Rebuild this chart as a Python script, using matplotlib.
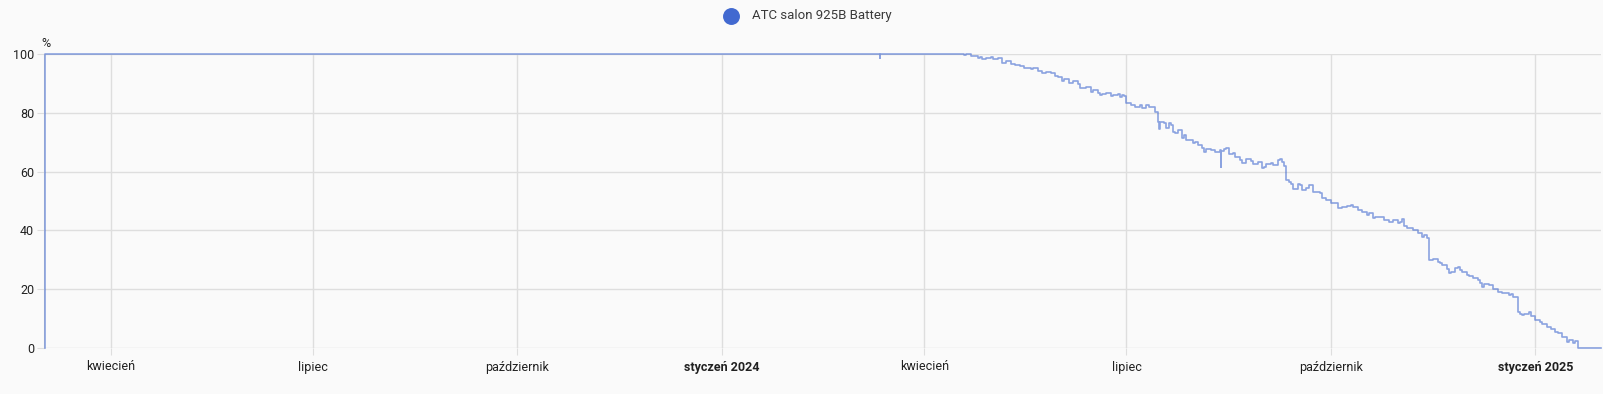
import matplotlib
matplotlib.use("Agg")
import matplotlib.pyplot as plt
import matplotlib.patches as mpatches
import pandas as pd

plt.rcParams['font.family'] = ['Roboto', 'DejaVu Sans']

# battery readings
dates = [
    "2023-03-02 12:00", "2023-03-02 13:00", "2024-03-12 00:00", "2024-03-12 06:00",
    "2024-04-17", "2024-04-19", "2024-04-20", "2024-04-22", "2024-04-25", "2024-04-26",
    "2024-04-27", "2024-04-29", "2024-05-01", "2024-05-02", "2024-05-04", "2024-05-06",
    "2024-05-08", "2024-05-10", "2024-05-12", "2024-05-14", "2024-05-16", "2024-05-19",
    "2024-05-20", "2024-05-22", "2024-05-24", "2024-05-26", "2024-05-28", "2024-05-30",
    "2024-05-31", "2024-06-02", "2024-06-03", "2024-06-05", "2024-06-07", "2024-06-09",
    "2024-06-10", "2024-06-11", "2024-06-13", "2024-06-15", "2024-06-16", "2024-06-18",
    "2024-06-19", "2024-06-20", "2024-06-22", "2024-06-24", "2024-06-25", "2024-06-27",
    "2024-06-28", "2024-06-29", "2024-06-30", "2024-07-01", "2024-07-03", "2024-07-05",
    "2024-07-07", "2024-07-08", "2024-07-10", "2024-07-11", "2024-07-12", "2024-07-14",
    "2024-07-15", "2024-07-15 12:00", "2024-07-16", "2024-07-18", "2024-07-19", "2024-07-20",
    "2024-07-21", "2024-07-22", "2024-07-23", "2024-07-24", "2024-07-26", "2024-07-27",
    "2024-07-28", "2024-07-30", "2024-07-31", "2024-08-01", "2024-08-02", "2024-08-04",
    "2024-08-05", "2024-08-06", "2024-08-08", "2024-08-10", "2024-08-12", "2024-08-12 08:00",
    "2024-08-12 16:00", "2024-08-14", "2024-08-15", "2024-08-16", "2024-08-18", "2024-08-19",
    "2024-08-21", "2024-08-22", "2024-08-24", "2024-08-26", "2024-08-27", "2024-08-29",
    "2024-08-31", "2024-09-01", "2024-09-02", "2024-09-04", "2024-09-05", "2024-09-07",
    "2024-09-08", "2024-09-09", "2024-09-10", "2024-09-11", "2024-09-12", "2024-09-13",
    "2024-09-14", "2024-09-16", "2024-09-17", "2024-09-18", "2024-09-20", "2024-09-21",
    "2024-09-23", "2024-09-25", "2024-09-26", "2024-09-27", "2024-09-29", "2024-10-01",
    "2024-10-03", "2024-10-04", "2024-10-06", "2024-10-08", "2024-10-10", "2024-10-11",
    "2024-10-13", "2024-10-15", "2024-10-17", "2024-10-18", "2024-10-20", "2024-10-21",
    "2024-10-23", "2024-10-25", "2024-10-27", "2024-10-29", "2024-10-31", "2024-11-01",
    "2024-11-02", "2024-11-03", "2024-11-04", "2024-11-06", "2024-11-07", "2024-11-09",
    "2024-11-11", "2024-11-12", "2024-11-13", "2024-11-14", "2024-11-16", "2024-11-18",
    "2024-11-19", "2024-11-20", "2024-11-22", "2024-11-23", "2024-11-24", "2024-11-26",
    "2024-11-27", "2024-11-28", "2024-11-29", "2024-12-01", "2024-12-02", "2024-12-04",
    "2024-12-06", "2024-12-07", "2024-12-08", "2024-12-09", "2024-12-11", "2024-12-13",
    "2024-12-15", "2024-12-17", "2024-12-20", "2024-12-21", "2024-12-22", "2024-12-24",
    "2024-12-25", "2024-12-26", "2024-12-27", "2024-12-29", "2024-12-30", "2025-01-01",
    "2025-01-03", "2025-01-04", "2025-01-06", "2025-01-08", "2025-01-10", "2025-01-11",
    "2025-01-13", "2025-01-15", "2025-01-16", "2025-01-18", "2025-01-19", "2025-01-20",
    "2025-01-30 12:00",
]
battery = [
    0, 100, 98.5, 100,
    100, 99.6, 100, 99.2, 98.5, 99.0,
    98.2, 98.8, 99.1, 98.4, 98.6, 97.0,
    97.5, 96.6, 96.2, 95.9, 95.3, 94.8,
    95.4, 94.3, 93.6, 94.0, 93.4, 92.6,
    92.1, 90.9, 91.6, 90.2, 90.8, 89.8,
    88.6, 88.3, 88.8, 87.2, 87.9, 86.8,
    86.0, 86.4, 86.9, 85.7, 86.2, 86.4,
    85.4, 86.1, 85.8, 83.2, 82.7, 82.1,
    82.6, 81.8, 82.7, 81.9, 82.1, 80.4,
    77.0, 74.5, 76.8, 76.4, 74.8, 76.6,
    75.9, 73.5, 73.0, 74.2, 71.3, 72.5,
    70.9, 70.7, 69.6, 70.2, 69.0, 67.9,
    66.5, 67.6, 67.3, 66.6, 67.3, 61.7,
    67.0, 67.6, 68.1, 66.0, 66.3, 64.8,
    64.0, 63.0, 64.3, 63.6, 62.6, 63.4,
    61.2, 61.7, 62.6, 63.0, 62.2, 64.0,
    64.3, 63.4, 62.0, 57.1, 56.3, 55.7,
    54.2, 55.8, 55.4, 53.8, 54.3, 55.4,
    53.2, 52.9, 52.6, 51.0, 50.3, 49.2,
    49.4, 47.5, 48.0, 48.4, 48.6, 47.9,
    46.9, 46.2, 45.2, 45.8, 44.1, 44.6,
    44.7, 43.6, 43.0, 43.5, 42.4, 42.8,
    43.8, 41.6, 40.7, 40.9, 40.1, 39.2,
    37.9, 38.6, 37.3, 29.9, 30.4, 29.4,
    29.0, 28.2, 26.8, 25.4, 25.8, 27.2,
    27.7, 26.6, 26.0, 25.0, 24.5, 23.8,
    23.1, 22.2, 20.8, 21.6, 21.4, 20.0,
    19.0, 18.8, 18.0, 18.4, 17.5, 12.3,
    11.7, 11.2, 11.6, 12.3, 11.0, 9.5,
    8.7, 8.0, 7.3, 6.4, 5.5, 5.0,
    3.9, 2.2, 2.8, 1.8, 2.4, 0,
    0,
]

tick_dates = ["2023-04-01", "2023-07-01", "2023-10-01", "2024-01-01",
              "2024-04-01", "2024-07-01", "2024-10-01", "2025-01-01"]
tick_labels = ["kwiecień", "lipiec", "październik", "styczeń 2024",
               "kwiecień", "lipiec", "październik", "styczeń 2025"]
y_ticks = [0, 20, 40, 60, 80, 100]

series_name = "ATC salon 925B Battery"
unit = "%"

LINE = "#4269d0"
GRID = "#dedede"
BG = "#fafafa"
TXT = "#212121"

W, H = 1603, 394
fig = plt.figure(figsize=(W / 100, H / 100), dpi=100, facecolor=BG)
ax = fig.add_axes([44 / W, 1 - 348 / H, (1601 - 44) / W, (348 - 54) / H])
ax.set_facecolor(BG)

x = pd.to_datetime(dates, format="mixed")
ax.plot(x, battery, drawstyle="steps-post", color=LINE, lw=1.2, alpha=0.6,
        clip_on=False, zorder=3)

ax.set_xlim(pd.Timestamp("2023-03-02 00:00"), pd.Timestamp("2025-01-30 12:00"))
ax.set_ylim(0, 100)

ax.set_xticks(pd.to_datetime(tick_dates))
ax.set_xticklabels(tick_labels)
for lbl in ax.get_xticklabels():
    if "20" in lbl.get_text():
        lbl.set_fontweight("bold")
ax.set_yticks(y_ticks)

ax.grid(True, color=GRID, lw=1)
ax.tick_params(axis="both", length=5, color=GRID, labelsize=9, labelcolor=TXT)
ax.tick_params(axis="x", pad=4)
ax.tick_params(axis="y", pad=2)
for s in ["top", "right", "bottom"]:
    ax.spines[s].set_visible(False)
ax.spines["left"].set_color(GRID)

ax.text(-3 / (1601 - 44), 1.012, unit, transform=ax.transAxes, fontsize=9,
        color=TXT, ha="left", va="bottom")

# legend
fig.add_artist(mpatches.Ellipse((731.5 / W, 1 - 16.5 / H), 15.5 / W, 15.5 / H,
                                transform=fig.transFigure, color=LINE))
fig.text(752 / W, 1 - 16 / H, series_name, fontsize=9.5, color="#3a3a3a",
         ha="left", va="center")

fig.savefig("out.png", dpi=100, facecolor=BG)
